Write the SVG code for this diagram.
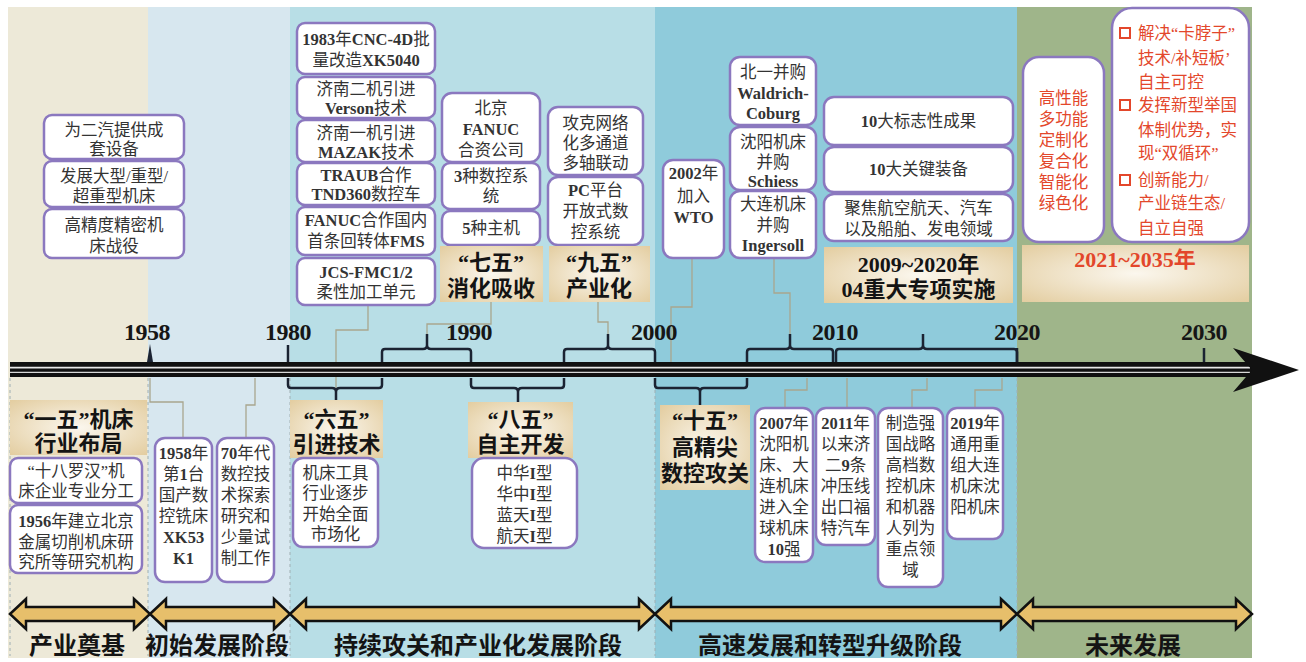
<svg xmlns="http://www.w3.org/2000/svg" width="1306" height="662" viewBox="0 0 1306 662">
<defs>
<radialGradient id="tan" cx="50%" cy="50%" r="70%">
<stop offset="0" stop-color="#FBF7EE"/>
<stop offset="1" stop-color="#E3CDA0"/>
</radialGradient>
<style>
.box{fill:#fff;stroke:#8B78BF;stroke-width:2.5}
.lab{fill:url(#tan)}
.t{font-family:'Liberation Serif','Noto Sans CJK SC',serif;font-size:16.5px;fill:#333;text-anchor:middle}
.b{font-weight:bold}
.h{font-family:'Liberation Serif','Noto Sans CJK SC',serif;font-size:22px;font-weight:bold;fill:#141414;text-anchor:middle}
.r{fill:#E3472B}
.yr{font-family:'Liberation Serif',serif;font-size:24px;font-weight:bold;fill:#161616;text-anchor:middle;letter-spacing:-0.5px}
.ph{font-family:'Noto Sans CJK SC',sans-serif;font-size:24px;font-weight:bold;fill:#141414;text-anchor:middle}
.conn{fill:none;stroke:#A9A68E;stroke-width:1.3}
.brace{fill:none;stroke:#1B2332;stroke-width:2.5}
.tick{stroke:#1B2332;stroke-width:2.5}
.dash{stroke:#9FAFB3;stroke-width:1;stroke-dasharray:3 3}
.dbl{fill:#E7BF6B;stroke:#111;stroke-width:2.5;stroke-linejoin:miter}
.sq{fill:none;stroke:#E3472B;stroke-width:2}
</style>
</defs>
<rect width="1306" height="662" fill="#fff"/>
<g id="bands">
<rect x="8" y="7" width="140" height="651" fill="#EDE9D8"/>
<rect x="148" y="7" width="142" height="651" fill="#D7E7EF"/>
<rect x="290" y="7" width="365" height="651" fill="#B8DEE6"/>
<rect x="655" y="7" width="362" height="651" fill="#8FCBDB"/>
<rect x="1017" y="7" width="235" height="651" fill="#9FB58A"/>
<line class="dash" x1="10" y1="378" x2="10" y2="656"/>
<line class="dash" x1="148" y1="378" x2="148" y2="656"/>
<line class="dash" x1="290" y1="378" x2="290" y2="656"/>
<line class="dash" x1="655" y1="378" x2="655" y2="656"/>
<line class="dash" x1="1017" y1="378" x2="1017" y2="656"/>
</g>

<g id="connectors">
<path class="conn" d="M368,305 V330 H336 V388"/>
<path class="conn" d="M491,302 V324 H427 V334"/>
<path class="conn" d="M598,302 V322 H608 V334"/>
<path class="conn" d="M692,258 V307 H671 V362"/>
<path class="conn" d="M774,258 V293 H790 V334"/>
<path class="conn" d="M150,378 V402 H183 V438"/>
<path class="conn" d="M255,378 V405 H246 V438"/>
<path class="conn" d="M807,378 V390 H785 V408"/>
<path class="conn" d="M847,378 V408"/>
<path class="conn" d="M927,378 V390 H912 V408"/>
<path class="conn" d="M1002,378 V390 H975 V408"/>
</g>

<g id="timeline">
<rect x="10" y="362" width="1246" height="15" fill="#111"/>
<line x1="10" y1="367.6" x2="1250" y2="367.6" stroke="#e8e8e8" stroke-width="1.8"/>
<line x1="10" y1="372.4" x2="1250" y2="372.4" stroke="#d8d8d8" stroke-width="1.4"/>
<path d="M1233,348 L1299,370 L1233,392 L1252,370 Z" fill="#111"/>
<polygon points="147,362 150,344 153,362" fill="#1B2332"/>
<line class="tick" x1="288" y1="345" x2="288" y2="362"/>
<line class="tick" x1="1017" y1="348" x2="1017" y2="362"/>
<line class="tick" x1="1204" y1="348" x2="1204" y2="362"/>
<text class="yr" x="147" y="340">1958</text>
<text class="yr" x="288" y="340">1980</text>
<text class="yr" x="469" y="340">1990</text>
<text class="yr" x="654" y="340">2000</text>
<text class="yr" x="835" y="340">2010</text>
<text class="yr" x="1017" y="340">2020</text>
<text class="yr" x="1204" y="340">2030</text>
</g>

<g id="braces">
<path class="brace" d="M382,362 V352 Q382,349 385,349 H423 Q427,349 427,345 V334 M427,345 Q427,349 431,349 H468 Q471,349 471,352 V362"/>
<path class="brace" d="M564,362 V352 Q564,349 567,349 H604 Q608,349 608,345 V334 M608,345 Q608,349 612,349 H652 Q655,349 655,352 V362"/>
<path class="brace" d="M747,362 V352 Q747,349 750,349 H786 Q790,349 790,345 V334 M790,345 Q790,349 794,349 H830 Q833,349 833,352 V362"/>
<path class="brace" d="M836,362 V352 Q836,349 839,349 H919 Q923,349 923,345 V334 M923,345 Q923,349 927,349 H1014 Q1017,349 1017,352 V362"/>
<path class="brace" d="M288,378 V385 Q288,388 291,388 H332 Q336,388 336,392 V401 M336,392 Q336,388 340,388 H379 Q382,388 382,385 V378"/>
<path class="brace" d="M471,378 V385 Q471,388 474,388 H514 Q518,388 518,392 V403 M518,392 Q518,388 522,388 H561 Q564,388 564,385 V378"/>
<path class="brace" d="M655,378 V385 Q655,388 658,388 H696 Q700,388 700,392 V406 M700,392 Q700,388 704,388 H744 Q747,388 747,385 V378"/>
</g>

<g id="n-erqi"><rect class="box" x="44" y="115" width="140" height="44" rx="8"/><text class="t" x="114" y="136">为二汽提供成</text><text class="t" x="114" y="155">套设备</text></g>
<g id="n-heavy"><rect class="box" x="44" y="161" width="140" height="46" rx="8"/><text class="t" x="114" y="182">发展大型/重型/</text><text class="t" x="114" y="202">超重型机床</text></g>
<g id="n-precision"><rect class="box" x="44" y="209" width="140" height="49" rx="8"/><text class="t" x="114" y="231">高精度精密机</text><text class="t" x="114" y="252">床战役</text></g>

<g id="n-cnc4d"><rect class="box" x="297" y="23" width="138" height="51" rx="8"/><text class="t" x="366" y="45"><tspan class="b">1983</tspan>年<tspan class="b">CNC-4D</tspan>批</text><text class="t" x="366" y="66">量改造<tspan class="b">XK5040</tspan></text></g>
<g id="n-verson"><rect class="box" x="297" y="77" width="138" height="41" rx="8"/><text class="t" x="366" y="95">济南二机引进</text><text class="t" x="366" y="114"><tspan class="b">Verson</tspan>技术</text></g>
<g id="n-mazak"><rect class="box" x="297" y="120" width="138" height="42" rx="8"/><text class="t" x="366" y="139">济南一机引进</text><text class="t" x="366" y="158"><tspan class="b">MAZAK</tspan>技术</text></g>
<g id="n-traub"><rect class="box" x="297" y="163" width="138" height="42" rx="8"/><text class="t" x="366" y="181"><tspan class="b">TRAUB</tspan>合作</text><text class="t" x="366" y="200"><tspan class="b">TND360</tspan>数控车</text></g>
<g id="n-fms"><rect class="box" x="297" y="207" width="138" height="48" rx="8"/><text class="t" x="366" y="226"><tspan class="b">FANUC</tspan>合作国内</text><text class="t" x="366" y="247">首条回转体<tspan class="b">FMS</tspan></text></g>
<g id="n-jcs"><rect class="box" x="297" y="258" width="138" height="47" rx="8"/><text class="t" x="366" y="278"><tspan class="b">JCS-FMC1/2</tspan></text><text class="t" x="366" y="298">柔性加工单元</text></g>

<g id="n-fanucjv"><rect class="box" x="442" y="93" width="98" height="69" rx="10"/><text class="t" x="491" y="114">北京</text><text class="t" x="491" y="135"><tspan class="b">FANUC</tspan></text><text class="t" x="491" y="156">合资公司</text></g>
<g id="n-3cnc"><rect class="box" x="442" y="163" width="98" height="46" rx="8"/><text class="t" x="491" y="182"><tspan class="b">3</tspan>种数控系</text><text class="t" x="491" y="202">统</text></g>
<g id="n-5host"><rect class="box" x="442" y="211" width="98" height="34" rx="8"/><text class="t" x="491" y="234"><tspan class="b">5</tspan>种主机</text></g>
<g id="n-75"><rect class="lab" x="440" y="246" width="103" height="56"/><text class="h" x="491" y="270">“七五”</text><text class="h" x="491" y="296">消化吸收</text></g>

<g id="n-network"><rect class="box" x="548" y="107" width="95" height="68" rx="10"/><text class="t" x="595.5" y="129">攻克网络</text><text class="t" x="595.5" y="149">化多通道</text><text class="t" x="595.5" y="169">多轴联动</text></g>
<g id="n-pc"><rect class="box" x="548" y="177" width="95" height="68" rx="10"/><text class="t" x="595.5" y="196"><tspan class="b">PC</tspan>平台</text><text class="t" x="595.5" y="217">开放式数</text><text class="t" x="595.5" y="238">控系统</text></g>
<g id="n-95"><rect class="lab" x="549" y="246" width="101" height="56"/><text class="h" x="599" y="270">“九五”</text><text class="h" x="599" y="296">产业化</text></g>

<g id="n-wto"><rect class="box" x="663" y="160" width="61" height="98" rx="10"/><text class="t" x="693.5" y="179"><tspan class="b">2002</tspan>年</text><text class="t" x="693.5" y="202">加入</text><text class="t" x="693.5" y="223"><tspan class="b">WTO</tspan></text></g>

<g id="n-waldrich"><rect class="box" x="730" y="57" width="86" height="68" rx="10"/><text class="t" x="773" y="78">北一并购</text><text class="t" x="773" y="99"><tspan class="b">Waldrich-</tspan></text><text class="t" x="773" y="119"><tspan class="b">Coburg</tspan></text></g>
<g id="n-schiess"><rect class="box" x="730" y="127" width="86" height="63" rx="10"/><text class="t" x="773" y="148">沈阳机床</text><text class="t" x="773" y="168">并购</text><text class="t" x="773" y="187"><tspan class="b">Schiess</tspan></text></g>
<g id="n-ingersoll"><rect class="box" x="730" y="191" width="86" height="67" rx="10"/><text class="t" x="773" y="210">大连机床</text><text class="t" x="773" y="231">并购</text><text class="t" x="773" y="251"><tspan class="b">Ingersoll</tspan></text></g>

<g id="n-10results"><rect class="box" x="824" y="97" width="189" height="48" rx="10"/><text class="t" x="918.5" y="127"><tspan class="b">10</tspan>大标志性成果</text></g>
<g id="n-10equip"><rect class="box" x="824" y="147" width="189" height="45" rx="10"/><text class="t" x="918.5" y="175"><tspan class="b">10</tspan>大关键装备</text></g>
<g id="n-focus"><rect class="box" x="824" y="194" width="189" height="47" rx="10"/><text class="t" x="918.5" y="214">聚焦航空航天、汽车</text><text class="t" x="918.5" y="235">以及船舶、发电领域</text></g>
<g id="n-04"><rect class="lab" x="824" y="247" width="189" height="56"/><text class="h" x="918.5" y="272">2009~2020年</text><text class="h" x="918.5" y="297">04重大专项实施</text></g>

<g id="n-trends"><rect class="box" x="1023" y="57" width="81" height="185" rx="16"/>
<text class="t r" x="1063.5" y="104">高性能</text><text class="t r" x="1063.5" y="125">多功能</text><text class="t r" x="1063.5" y="146">定制化</text><text class="t r" x="1063.5" y="167">复合化</text><text class="t r" x="1063.5" y="188">智能化</text><text class="t r" x="1063.5" y="209">绿色化</text></g>
<g id="n-goals"><rect class="box" x="1112" y="8" width="137" height="234" rx="20"/>
<rect class="sq" x="1120" y="28" width="10" height="10"/>
<rect class="sq" x="1120" y="100" width="10" height="10"/>
<rect class="sq" x="1120" y="175" width="10" height="10"/>
<g class="t r" style="text-anchor:start">
<text x="1138" y="39">解决“卡脖子”</text>
<text x="1138" y="64">技术/补短板’</text>
<text x="1138" y="88">自主可控</text>
<text x="1138" y="111">发挥新型举国</text>
<text x="1138" y="136">体制优势，实</text>
<text x="1138" y="159">现“双循环”</text>
<text x="1138" y="186">创新能力/</text>
<text x="1138" y="209">产业链生态/</text>
<text x="1138" y="234">自立自强</text>
</g></g>
<g id="n-2035"><rect class="lab" x="1022" y="245" width="227" height="57"/><text class="h r" x="1135" y="267">2021~2035年</text></g>

<g id="n-15"><rect class="lab" x="10" y="400" width="137" height="55"/><text class="h" x="78.5" y="427">“一五”机床</text><text class="h" x="78.5" y="451">行业布局</text></g>
<g id="n-18"><rect class="box" x="10" y="458" width="132" height="45" rx="8"/><text class="t" x="76" y="477">“十八罗汉”机</text><text class="t" x="76" y="497">床企业专业分工</text></g>
<g id="n-1956"><rect class="box" x="10" y="505" width="132" height="68" rx="8"/><text class="t" x="76" y="527"><tspan class="b">1956</tspan>年建立北京</text><text class="t" x="76" y="548">金属切削机床研</text><text class="t" x="76" y="568">究所等研究机构</text></g>
<g id="n-1958"><rect class="box" x="155" y="438" width="57" height="144" rx="10"/><text class="t" x="183.5" y="459"><tspan class="b">1958</tspan>年</text><text class="t" x="183.5" y="480">第<tspan class="b">1</tspan>台</text><text class="t" x="183.5" y="501">国产数</text><text class="t" x="183.5" y="522">控铣床</text><text class="t" x="183.5" y="543"><tspan class="b">XK53</tspan></text><text class="t" x="183.5" y="564"><tspan class="b">K1</tspan></text></g>
<g id="n-70s"><rect class="box" x="217" y="438" width="57" height="144" rx="10"/><text class="t" x="245.5" y="459"><tspan class="b">70</tspan>年代</text><text class="t" x="245.5" y="480">数控技</text><text class="t" x="245.5" y="501">术探索</text><text class="t" x="245.5" y="522">研究和</text><text class="t" x="245.5" y="543">少量试</text><text class="t" x="245.5" y="564">制工作</text></g>

<g id="n-65"><rect class="lab" x="290" y="400" width="93" height="58"/><text class="h" x="336.5" y="427">“六五”</text><text class="h" x="336.5" y="452">引进技术</text></g>
<g id="n-market"><rect class="box" x="293" y="458" width="85" height="89" rx="10"/><text class="t" x="335.5" y="479">机床工具</text><text class="t" x="335.5" y="499">行业逐步</text><text class="t" x="335.5" y="520">开始全面</text><text class="t" x="335.5" y="540">市场化</text></g>
<g id="n-85"><rect class="lab" x="468" y="402" width="105" height="56"/><text class="h" x="520.5" y="427">“八五”</text><text class="h" x="520.5" y="452">自主开发</text></g>
<g id="n-types"><rect class="box" x="472" y="458" width="105" height="90" rx="12"/><text class="t" x="524.5" y="479">中华<tspan class="b">I</tspan>型</text><text class="t" x="524.5" y="500">华中<tspan class="b">I</tspan>型</text><text class="t" x="524.5" y="521">蓝天<tspan class="b">I</tspan>型</text><text class="t" x="524.5" y="542">航天<tspan class="b">I</tspan>型</text></g>

<g id="n-10th"><rect class="lab" x="660" y="405" width="90" height="85"/><text class="h" x="705" y="428">“十五”</text><text class="h" x="705" y="455">高精尖</text><text class="h" x="705" y="481">数控攻关</text></g>
<g id="n-2007"><rect class="box" x="755" y="408" width="58" height="154" rx="10"/><text class="t" x="784" y="429"><tspan class="b">2007</tspan>年</text><text class="t" x="784" y="450">沈阳机</text><text class="t" x="784" y="471">床、大</text><text class="t" x="784" y="492">连机床</text><text class="t" x="784" y="513">进入全</text><text class="t" x="784" y="534">球机床</text><text class="t" x="784" y="555"><tspan class="b">10</tspan>强</text></g>
<g id="n-2011"><rect class="box" x="816" y="408" width="59" height="137" rx="10"/><text class="t" x="845.5" y="429"><tspan class="b">2011</tspan>年</text><text class="t" x="845.5" y="450">以来济</text><text class="t" x="845.5" y="471">二<tspan class="b">9</tspan>条</text><text class="t" x="845.5" y="492">冲压线</text><text class="t" x="845.5" y="513">出口福</text><text class="t" x="845.5" y="534">特汽车</text></g>
<g id="n-strategy"><rect class="box" x="878" y="408" width="65" height="179" rx="10"/><text class="t" x="910.5" y="429">制造强</text><text class="t" x="910.5" y="450">国战略</text><text class="t" x="910.5" y="471">高档数</text><text class="t" x="910.5" y="492">控机床</text><text class="t" x="910.5" y="513">和机器</text><text class="t" x="910.5" y="534">人列为</text><text class="t" x="910.5" y="555">重点领</text><text class="t" x="910.5" y="576">域</text></g>
<g id="n-2019"><rect class="box" x="947" y="408" width="56" height="131" rx="10"/><text class="t" x="975" y="429"><tspan class="b">2019</tspan>年</text><text class="t" x="975" y="450">通用重</text><text class="t" x="975" y="471">组大连</text><text class="t" x="975" y="492">机床沈</text><text class="t" x="975" y="513">阳机床</text></g>

<g id="phases">
<polygon class="dbl" points="10,614 26,599 26,607 134,607 134,599 150,614 134,629 134,621 26,621 26,629"/>
<polygon class="dbl" points="150,614 166,599 166,607 274,607 274,599 290,614 274,629 274,621 166,621 166,629"/>
<polygon class="dbl" points="290,614 306,599 306,607 639,607 639,599 655,614 639,629 639,621 306,621 306,629"/>
<polygon class="dbl" points="655,614 671,599 671,607 1001,607 1001,599 1017,614 1001,629 1001,621 671,621 671,629"/>
<polygon class="dbl" points="1017,614 1033,599 1033,607 1236,607 1236,599 1252,614 1236,629 1236,621 1033,621 1033,629"/>
<text class="ph" x="77" y="654">产业奠基</text>
<text class="ph" x="217" y="654">初始发展阶段</text>
<text class="ph" x="478" y="654">持续攻关和产业化发展阶段</text>
<text class="ph" x="830" y="654">高速发展和转型升级阶段</text>
<text class="ph" x="1133" y="654">未来发展</text>
</g>
</svg>
